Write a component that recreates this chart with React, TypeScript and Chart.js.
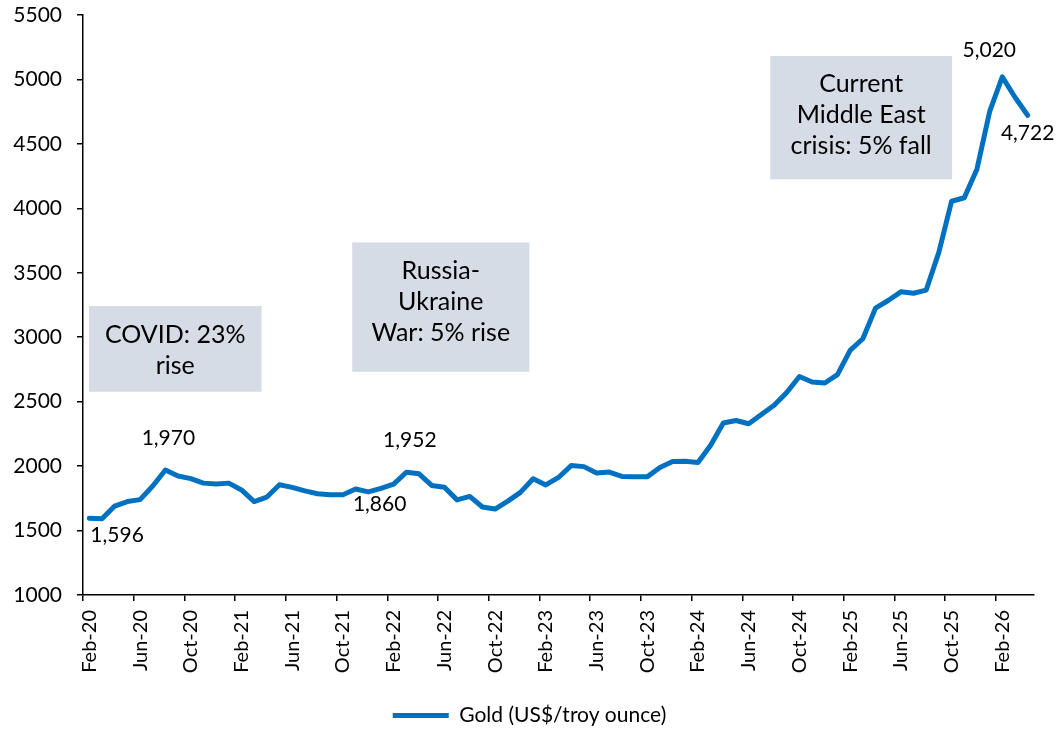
import React, { useEffect, useRef } from 'react';
import { Chart, registerables } from 'chart.js';

Chart.register(...registerables);

// ---------- DATA ----------
const months: string[] = [
  'Feb-20', 'Mar-20', 'Apr-20', 'May-20', 'Jun-20', 'Jul-20', 'Aug-20', 'Sep-20', 'Oct-20', 'Nov-20', 'Dec-20',
  'Jan-21', 'Feb-21', 'Mar-21', 'Apr-21', 'May-21', 'Jun-21', 'Jul-21', 'Aug-21', 'Sep-21', 'Oct-21', 'Nov-21', 'Dec-21',
  'Jan-22', 'Feb-22', 'Mar-22', 'Apr-22', 'May-22', 'Jun-22', 'Jul-22', 'Aug-22', 'Sep-22', 'Oct-22', 'Nov-22', 'Dec-22',
  'Jan-23', 'Feb-23', 'Mar-23', 'Apr-23', 'May-23', 'Jun-23', 'Jul-23', 'Aug-23', 'Sep-23', 'Oct-23', 'Nov-23', 'Dec-23',
  'Jan-24', 'Feb-24', 'Mar-24', 'Apr-24', 'May-24', 'Jun-24', 'Jul-24', 'Aug-24', 'Sep-24', 'Oct-24', 'Nov-24', 'Dec-24',
  'Jan-25', 'Feb-25', 'Mar-25', 'Apr-25', 'May-25', 'Jun-25', 'Jul-25', 'Aug-25', 'Sep-25', 'Oct-25', 'Nov-25', 'Dec-25',
  'Jan-26', 'Feb-26', 'Mar-26', 'Apr-26',
];

const goldPrices: number[] = [
  1596, 1591, 1690, 1725, 1740, 1846, 1970, 1923, 1903, 1868, 1862,
  1868, 1815, 1725, 1760, 1855, 1835, 1808, 1786, 1777, 1778, 1822, 1800,
  1828, 1860, 1952, 1940, 1850, 1836, 1738, 1765, 1683, 1667, 1728, 1796,
  1902, 1854, 1912, 2004, 1996, 1946, 1954, 1920, 1917, 1917, 1990, 2036,
  2037, 2028, 2161, 2334, 2354, 2329, 2401, 2472, 2571, 2695, 2653, 2645,
  2710, 2898, 2988, 3226, 3285, 3352, 3341, 3366, 3660, 4055, 4082, 4304,
  4750, 5020, 4862, 4722,
];

const seriesName = 'Gold (US$/troy ounce)';
const yMin = 1000;
const yMax = 5500;
const yStep = 500;
const labelEvery = 4;

// indexes of points that carry a value label
const labelledIndexes: number[] = [0, 6, 24, 25, 72, 74];

const annotationTexts: string[][] = [
  ['COVID: 23%', 'rise'],
  ['Russia-', 'Ukraine', 'War: 5% rise'],
  ['Current', 'Middle East', 'crisis: 5% fall'],
];

// ---------- STYLE / PLACEMENT ----------
const FONT = 'Lato';
const LINE_COLOR = '#0070C0';
const BOX_COLOR = '#D6DCE5';

// box extents in axis units (category index, value)
const annotationBoxes = [
  { x0: -0.03, x1: 13.58, yTop: 3242, yBottom: 2577, shift: 1.5 },
  { x0: 20.73, x1: 34.7, yTop: 3736, yBottom: 2732, shift: -5 },
  { x0: 53.7, x1: 68.04, yTop: 5182, yBottom: 4225, shift: -3 },
];

// pixel offsets of value labels from their points
const labelOffsets: Record<number, { dx: number; dy: number; align: CanvasTextAlign }> = {
  0: { dx: 1, dy: 17, align: 'left' },
  6: { dx: 3, dy: -32, align: 'center' },
  24: { dx: -14, dy: 20, align: 'center' },
  25: { dx: 3.5, dy: -32, align: 'center' },
  72: { dx: -13, dy: -27, align: 'center' },
  74: { dx: 0, dy: 18, align: 'center' },
};

const fmt = (v: number) => v.toLocaleString('en-US');

const overlayPlugin = {
  id: 'overlay',
  beforeDatasetsDraw(chart: any) {
    const { ctx, scales } = chart;
    const x = scales.x;
    const y = scales.y;
    ctx.save();
    annotationBoxes.forEach((b, k) => {
      const l = x.getPixelForValue(b.x0);
      const r = x.getPixelForValue(b.x1);
      const t = y.getPixelForValue(b.yTop);
      const bt = y.getPixelForValue(b.yBottom);
      ctx.fillStyle = BOX_COLOR;
      ctx.fillRect(l, t, r - l, bt - t);
      const lines = annotationTexts[k];
      ctx.fillStyle = '#000';
      ctx.font = `25px ${FONT}`;
      ctx.textAlign = 'center';
      ctx.textBaseline = 'middle';
      const cx = (l + r) / 2;
      const cy = (t + bt) / 2 + b.shift;
      const lh = 31;
      lines.forEach((ln, i) => {
        ctx.fillText(ln, cx, cy + (i - (lines.length - 1) / 2) * lh);
      });
    });
    ctx.restore();
  },
  afterDatasetsDraw(chart: any) {
    const { ctx } = chart;
    const meta = chart.getDatasetMeta(0);
    ctx.save();
    ctx.fillStyle = '#000';
    ctx.font = `21px ${FONT}`;
    ctx.textBaseline = 'middle';
    labelledIndexes.forEach((idx) => {
      const pt = meta.data[idx];
      const o = labelOffsets[idx];
      ctx.textAlign = o.align;
      ctx.fillText(fmt(goldPrices[idx]), pt.x + o.dx, pt.y + o.dy);
    });
    ctx.restore();
  },
};

export default function App() {
  const canvasRef = useRef<HTMLCanvasElement | null>(null);

  useEffect(() => {
    if (!canvasRef.current) return;
    Chart.defaults.font.family = FONT;
    const chart = new Chart(canvasRef.current, {
      type: 'line',
      data: {
        labels: months,
        datasets: [
          {
            label: seriesName,
            data: goldPrices,
            borderColor: LINE_COLOR,
            backgroundColor: LINE_COLOR,
            borderWidth: 5,
            pointRadius: 0,
            pointHoverRadius: 0,
            tension: 0,
            borderJoinStyle: 'round',
            borderCapStyle: 'round',
            fill: false,
          },
        ],
      },
      options: {
        animation: false,
        responsive: true,
        maintainAspectRatio: false,
        layout: { padding: { left: 0, top: 0, right: 0, bottom: 0 } },
        plugins: {
          tooltip: { enabled: false },
          legend: {
            position: 'bottom',
            labels: {
              usePointStyle: true,
              pointStyle: 'line',
              pointStyleWidth: 56,
              color: '#000',
              padding: 4,
              font: { size: 21, family: FONT },
            },
          },
        },
        scales: {
          x: {
            type: 'category',
            offset: true,
            border: { display: true, color: '#000', width: 1.5 },
            grid: {
              offset: true,
              drawOnChartArea: false,
              drawTicks: true,
              tickLength: 6,
              lineWidth: 1.5,
              color: (ctx: any) =>
                typeof ctx.index === 'number' && ctx.index % labelEvery === 0 ? '#000' : 'rgba(0,0,0,0)',
            },
            ticks: {
              autoSkip: false,
              maxRotation: 90,
              minRotation: 90,
              padding: 9,
              color: '#000',
              font: { size: 20, family: FONT },
              callback: (_v: any, i: number) => (i % labelEvery === 0 ? months[i] : ''),
            },
            afterFit: (scale: any) => {
              scale.height = 106;
              scale.paddingRight = 25;
            },
          },
          y: {
            type: 'linear',
            min: yMin,
            max: yMax,
            border: { display: true, color: '#000', width: 1.5 },
            grid: {
              drawOnChartArea: false,
              drawTicks: true,
              tickLength: 6,
              lineWidth: 1.5,
              color: '#000',
            },
            ticks: {
              stepSize: yStep,
              padding: 15,
              color: '#000',
              font: { size: 21, family: FONT },
              callback: (v: any) => String(v),
            },
            afterFit: (scale: any) => {
              scale.width = 83;
              scale.paddingTop = 15;
              scale.paddingBottom = 0;
            },
          },
        },
      },
      plugins: [overlayPlugin],
    });
    return () => chart.destroy();
  }, []);

  return (
    <div style={{ position: 'fixed', left: 0, top: 0, width: 1059, height: 736, background: '#fff' }}>
      <canvas ref={canvasRef} />
    </div>
  );
}
